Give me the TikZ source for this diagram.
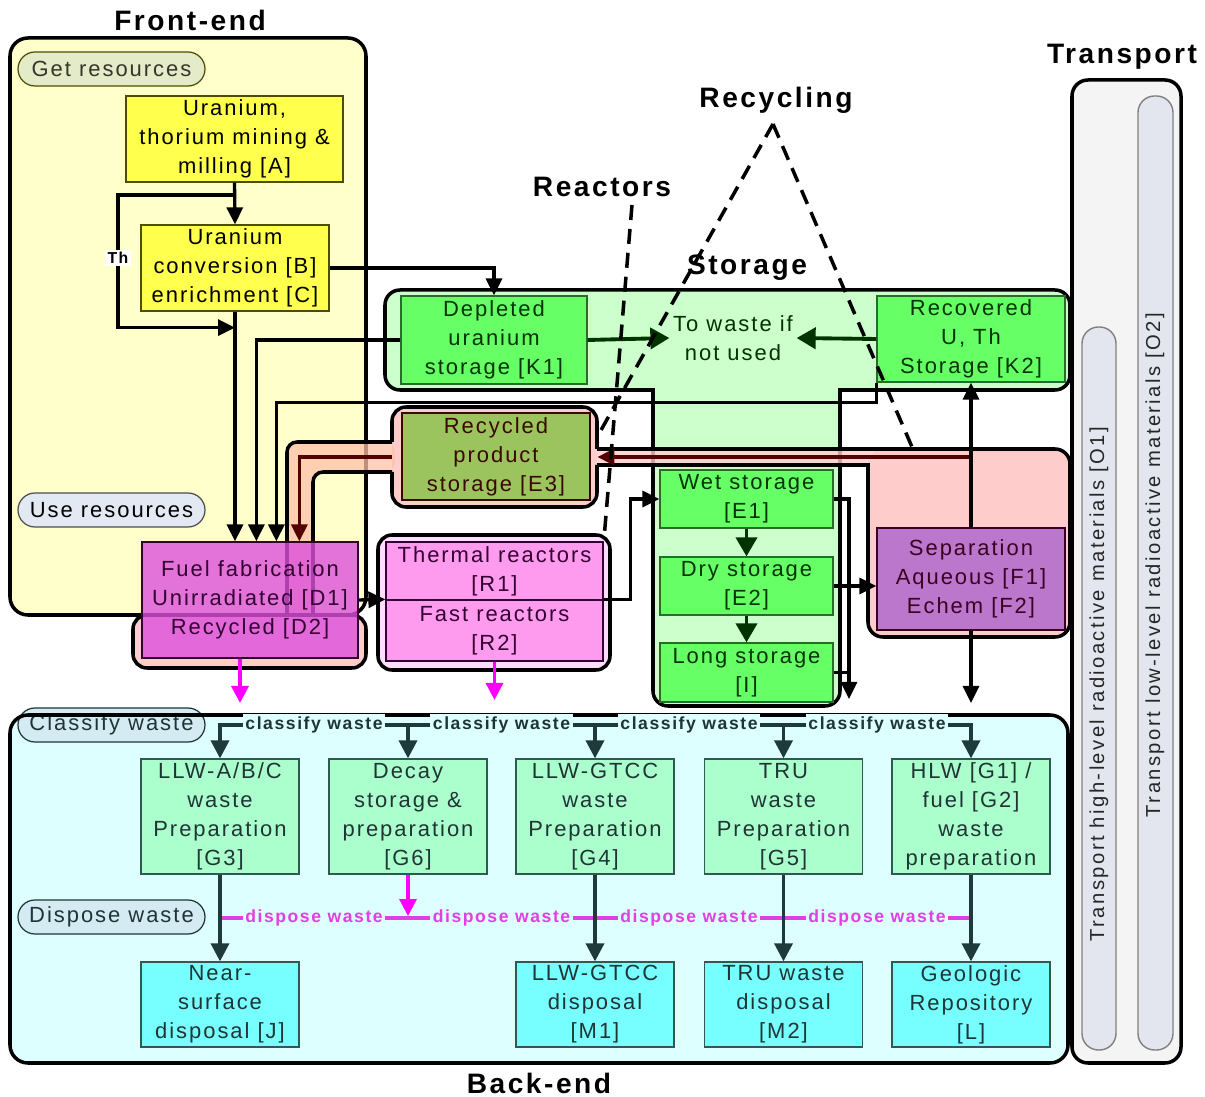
\documentclass[tikz,border=0pt]{standalone}
\usepackage{fontspec}
\usepackage{graphicx}
\setmainfont{Liberation Sans}[LetterSpace=9]
\newfontfamily\trfam{Liberation Sans}[LetterSpace=12]
\usetikzlibrary{arrows.meta,calc}
\newcommand\pxu{0.02cm}
\newcommand\boxfont{\fontsize{12.5}{16.5}\selectfont}
\newcommand\ttlfont{\fontsize{16}{19}\selectfont\bfseries}
\newcommand\lblfont{\fontsize{10}{11}\selectfont\bfseries}
\newcommand\trfont{\trfam\fontsize{11.5}{13}\selectfont}

\definecolor{feY}{HTML}{FFFFCC}
\definecolor{yb}{HTML}{FFFF4D}
\definecolor{ybB}{HTML}{4D4D00}
\definecolor{stG}{HTML}{CCFFCC}
\definecolor{kG}{HTML}{66FF66}
\definecolor{kB}{HTML}{2A6A2A}
\definecolor{kT}{HTML}{003300}
\definecolor{salm}{HTML}{FFCCCC}
\definecolor{bandO}{HTML}{FFC0A8}
\definecolor{e3F}{HTML}{9CC45E}
\definecolor{e3T}{HTML}{3A0800}
\definecolor{ffF}{HTML}{DD4FDD}
\definecolor{ffT}{HTML}{330033}
\definecolor{rO}{HTML}{FFDDFF}
\definecolor{rI}{HTML}{FF9BEE}
\definecolor{sepF}{HTML}{BB77CC}
\definecolor{sepT}{HTML}{3A0022}
\definecolor{beC}{HTML}{DDFFFF}
\definecolor{gF}{HTML}{AAFFCC}
\definecolor{mF}{HTML}{77FFFF}
\definecolor{wB}{HTML}{2F5A50}
\definecolor{wT}{HTML}{1F3535}
\definecolor{plB}{HTML}{D5EBF3}
\definecolor{plG}{HTML}{E3EBC8}
\definecolor{plU}{HTML}{E3E9F3}
\definecolor{trF}{HTML}{F4F4F4}
\definecolor{trP}{HTML}{E3E6EF}
\definecolor{magA}{HTML}{FF00FF}
\definecolor{magL}{HTML}{E040E0}
\definecolor{dred}{HTML}{550000}
\definecolor{dgrn}{HTML}{003300}
\definecolor{slate}{HTML}{1F3A3A}

\begin{document}
\begin{tikzpicture}[x=0.02cm,y=-0.02cm,
  region/.style={line width=2pt, rounded corners=0.36cm},
  box/.style={draw, line width=0.7pt, align=center, inner sep=0pt, font=\boxfont},
  wh/.style 2 args={minimum width=#1*\pxu, minimum height=#2*\pxu},
  ybox/.style={box, fill=yb, draw=ybB, text=black},
  kbox/.style={box, fill=kG, draw=kB, text=kT},
  gbox/.style={box, fill=gF, draw=wB, text=wT},
  mbox/.style={box, fill=mF, draw=wB, text=wT},
  pill/.style={draw=#1, line width=0.7pt, rounded corners=0.34cm, inner sep=0pt, font=\boxfont, minimum width=187*\pxu, minimum height=34*\pxu},
  ttl/.style={font=\ttlfont},
  lbl/.style={font=\lblfont, fill=beC, inner sep=1.5pt},
  conn/.style={line width=1.9pt, -{Triangle[length=0.34cm,width=0.32cm]}},
  plain/.style={line width=1.9pt},
  gconn/.style={line width=2.2pt, dgrn, -{Triangle[length=0.38cm,width=0.42cm]}},
  rconn/.style={line width=2pt, dred, -{Triangle[length=0.34cm,width=0.32cm]}},
  mconn/.style={line width=1.9pt, magA, -{Triangle[length=0.34cm,width=0.34cm]}},
  wconn/.style={line width=2pt, slate, -{Triangle[length=0.36cm,width=0.36cm]}},
  dsh/.style={line width=2pt, dash pattern=on 0.3cm off 0.18cm},
  redge/.style={line width=2pt, rounded corners=0.28cm}]
\useasboundingbox (0,0) rectangle (1205,1097);

% ---------- Transport column ----------
\draw[region, fill=trF, rounded corners=0.32cm] (1072,80) rectangle (1181,1063);
\draw[fill=trP, draw=gray, line width=0.8pt, rounded corners=0.33cm] (1082,327) rectangle (1116,1050);
\draw[fill=trP, draw=gray, line width=0.8pt, rounded corners=0.33cm] (1138,96) rectangle (1173,1050);
\node[rotate=90, font=\trfont, text=black!85] (O1) at (1099,684) {Transport high-level radioactive materials [O1]};
\node[rotate=90, font=\trfont, text=black!85] (O2) at (1155,565) {Transport low-level radioactive materials [O2]};

% ---------- Front-end region ----------
\draw[region, fill=feY] (10,38) rectangle (366,615);

% ---------- Storage region (T shape) ----------
\fill[stG, rounded corners=0.3cm] (385,290) rectangle (1070,390);
\fill[stG, rounded corners=0.3cm] (653,350) rectangle (840,706);
\draw[line width=2pt] (600,390) -- (653,390) -- (653,450);
\draw[line width=2pt, rounded corners=0.3cm] (653,450) -- (653,706) -- (840,706) -- (840,450);
\draw[line width=2pt] (840,450) -- (840,390) -- (950,390);
\draw[line width=2pt, rounded corners=0.3cm] (950,390) -- (1070,390) -- (1070,290) -- (385,290) -- (385,390) -- (600,390);

% ---------- Back-end region (fill) ----------
\fill[beC, rounded corners=0.36cm] (10,715) rectangle (1068,1063);

% ---------- Recycling regions ----------
\fill[salm, rounded corners=0.28cm] (392,407) rectangle (597,507);
\fill[bandO, fill opacity=0.75, rounded corners=0.2cm] (395,442) -- (287,442) -- (287,616) -- (313,616) -- (313,472) -- (395,472) -- cycle;
\fill[salm, fill opacity=0.8] (595,449) rectangle (900,465);
\fill[salm, rounded corners=0.3cm] (868,449) rectangle (1070,637);
\draw[region, fill=salm, rounded corners=0.28cm] (133,615) rectangle (366,668);
% outlines
\draw[redge] (392,442) -- (392,407) -- (597,407) -- (597,449);
\draw[redge] (597,465) -- (597,507) -- (392,507) -- (392,472);
\draw[redge, rounded corners=0.2cm] (392,442) -- (287,442) -- (287,616);
\draw[redge, rounded corners=0.2cm] (392,472) -- (313,472) -- (313,616);
\draw[redge, rounded corners=0.3cm] (597,449) -- (1070,449) -- (1070,637) -- (868,637) -- (868,600);
\draw[line width=2pt] (868,600) -- (868,465) -- (597,465);

% ---------- Reactors region ----------
\draw[region, fill=rO, rounded corners=0.28cm] (378,535) rectangle (610,670);

% ---------- Back-end outline pills ----------
\node[pill=wT, fill=plB, text=wT] (clsP) at (111.5,725) {Classify waste};
\draw[region, rounded corners=0.36cm] (10,715) rectangle (1068,1063);
\node[pill=wT, fill=plB, text=wT] (dspP) at (111.5,917) {Dispose waste};
\node[pill=ybB, fill=plG, text=black!80!olive] (getP) at (111.5,69) {Get resources};
\node[pill=black!70, fill=plU, text=black] (useP) at (111.5,510) {Use resources};

% ---------- Process boxes ----------
\node[ybox, wh={217}{86}] (A) at (234.5,139) {Uranium,\\thorium mining \&\\milling [A]};
\node[ybox, wh={188}{86}] (B) at (235,268) {Uranium\\conversion [B]\\enrichment [C]};
\node[kbox, wh={186}{88}] (K1) at (494,340) {Depleted\\uranium\\storage [K1]};
\node[kbox, wh={188}{86}] (K2) at (971,339) {Recovered\\U, Th\\Storage [K2]};
\node[text=kT, align=center, font=\boxfont, inner sep=2pt] (waste) at (733,338) {To waste if\\not used};
\node[box, fill=e3F, draw=e3T, text=e3T, wh={188}{87}] (E3) at (496,456.5) {Recycled\\product\\storage [E3]};
\node[inner sep=0pt, wh={205}{100}] (E3r) at (494.5,457) {};
\node[kbox, wh={173}{58}] (E1) at (746.5,499) {Wet storage\\{}[E1]};
\node[kbox, wh={173}{58}] (E2) at (746.5,586) {Dry storage\\{}[E2]};
\node[kbox, wh={173}{59}] (I) at (746.5,672.5) {Long storage\\{}[I]};
\node[box, fill=sepF, draw=sepT, text=sepT, wh={188}{102}] (Sep) at (971,579) {Separation\\Aqueous [F1]\\Echem [F2]};
\node[box, fill=rI, draw=ffT, text=ffT, wh={217}{58}] (R1) at (494.5,571) {Thermal reactors\\{}[R1]};
\node[box, fill=rI, draw=ffT, text=ffT, wh={217}{61}] (R2) at (494.5,630.5) {Fast reactors\\{}[R2]};
\node[inner sep=0pt, wh={232}{135}] (Rout) at (494,602.5) {};

% back-end boxes
\node[gbox, wh={158}{115}] (G3) at (220,816.5) {LLW-A/B/C\\waste\\Preparation\\{}[G3]};
\node[gbox, wh={158}{115}] (G6) at (408,816.5) {Decay\\storage \&\\preparation\\{}[G6]};
\node[gbox, wh={158}{115}] (G4) at (595,816.5) {LLW-GTCC\\waste\\Preparation\\{}[G4]};
\node[gbox, wh={158}{115}] (G5) at (783.5,816.5) {TRU\\waste\\Preparation\\{}[G5]};
\node[gbox, wh={158}{115}] (H) at (971,816.5) {HLW [G1] /\\fuel [G2]\\waste\\preparation};
\node[mbox, wh={158}{85}] (J) at (220,1004.5) {Near-\\surface\\disposal [J]};
\node[mbox, wh={158}{85}] (M1) at (595,1004.5) {LLW-GTCC\\disposal\\{}[M1]};
\node[mbox, wh={158}{85}] (M2) at (783.5,1004.5) {TRU waste\\disposal\\{}[M2]};
\node[mbox, wh={158}{85}] (L) at (971,1004.5) {Geologic\\Repository\\{}[L]};

% ---------- Front-end connectors ----------
\draw[conn] (A.south) -- (B.north);
\coordinate (th) at (118,258);
\coordinate (thA) at ($(A.south)!0.3!(B.north)$);
\coordinate (thB) at ($(B.south)+(0,16)$);
\draw[conn] (thA) -| (th) |- (thB);
\node[fill=white, inner sep=1.5pt, font=\fontsize{9}{10}\selectfont\bfseries] (thL) at (th) {Th};

% ---------- Fuel fabrication (translucent, over the band) ----------
\node[box, fill=ffF, fill opacity=0.8, text opacity=1, draw=ffT, text=ffT, wh={216}{116}] (FF) at (250,600) {Fuel fabrication\\Unirradiated [D1]\\Recycled [D2]};

\draw[conn] (B.south) -- (B.south |- FF.north);
\draw[conn] (B.east) -| (K1.north);
\draw[conn] (K1.west) -| ([xshift=2.3cm]FF.north west);
\draw[conn] (K2.south west) -- ++(0,20) -| ([xshift=2.7cm]FF.north west);
\draw[rconn] (E3r.west) -| ([xshift=3.16cm]FF.north west);
\draw[rconn] (E3r.east -| Sep.north) -- (E3r.east);
\draw[conn] (Sep.north) -- (K2.south);
\coordinate (sepout) at (971,703);
\draw[conn] (Sep.south) -- (sepout);

% storage connectors
\draw[gconn] (K1.east) -- (waste.west);
\draw[gconn] (K2.west) -- (waste.east);
\draw[gconn] (E1.south) -- (E2.north);
\draw[gconn] (E2.south) -- (I.north);
\coordinate (busout) at (849,699);
\draw[conn] (E1.east) -| (busout);
\draw[plain] (E2.east) -- (E2.east -| busout);
\draw[plain] (I.east) -- (I.east -| busout);
\draw[conn] (E2.east) -- (E2.east -| Sep.west);

% reactors
\draw[conn] (FF.east) -- (R2.north west);
\draw[conn] (R2.north east) -- ++(27,0) |- (E1.west);
\coordinate (ffout) at (240,703);
\draw[mconn] (FF.south -| ffout) -- (ffout);
\coordinate (rout) at (494.5,700);
\draw[mconn] (R2.south) -- (rout);

% ---------- Back-end flows ----------
\coordinate (cls) at (600,725);
\coordinate (dsp) at (600,918);
\draw[line width=2pt, slate, {Triangle[length=0.36cm,width=0.36cm]}-{Triangle[length=0.36cm,width=0.36cm]}] (G3.north) |- (cls) -| (H.north);
\foreach \g in {G6,G4,G5} \draw[wconn] (\g.north |- cls) -- (\g.north);
\draw[line width=2pt, magL] (G3.south |- dsp) -- (H.south |- dsp);
\draw[mconn] (G6.south) -- ([yshift=0.04cm]G6.south |- dsp);
\draw[wconn] (G3.south) -- (J.north);
\draw[wconn] (G4.south) -- (M1.north);
\draw[wconn] (G5.south) -- (M2.north);
\draw[wconn] (H.south) -- (L.north);
\foreach \x/\n in {314/c1,501.5/c2,689/c3,877/c4}
  \node[lbl, text=wT] (\n) at (\x,725) {classify waste};
\foreach \x/\n in {314/d1,501.5/d2,689/d3,877/d4}
  \node[lbl, text=magL] (\n) at (\x,918) {dispose waste};

% ---------- Titles ----------
\node[ttl] (tFront) at (190,20) {Front-end};
\node[ttl] (tTrans) at (1122,57) {Transport};
\node[ttl] (tBack) at (539,1083) {Back-end};
\node[ttl] (tRecy) at (776,100) {Recycling};
\node[ttl] (tReac) at (602,187) {Reactors};
\node[ttl] (tStor) at (747,268) {Storage};

% ---------- Dashed group pointers ----------
\coordinate (apex) at (773,124);
\coordinate (recR) at (912,447);
\coordinate (reacTop) at (632,205);
\draw[dsh] (apex) -- ([yshift=-0.6cm]E3r.north east);
\draw[dsh] (apex) -- (recR);
\draw[dsh] (reacTop) -- ([xshift=-0.12cm]Rout.north east);
\end{tikzpicture}
\end{document}
